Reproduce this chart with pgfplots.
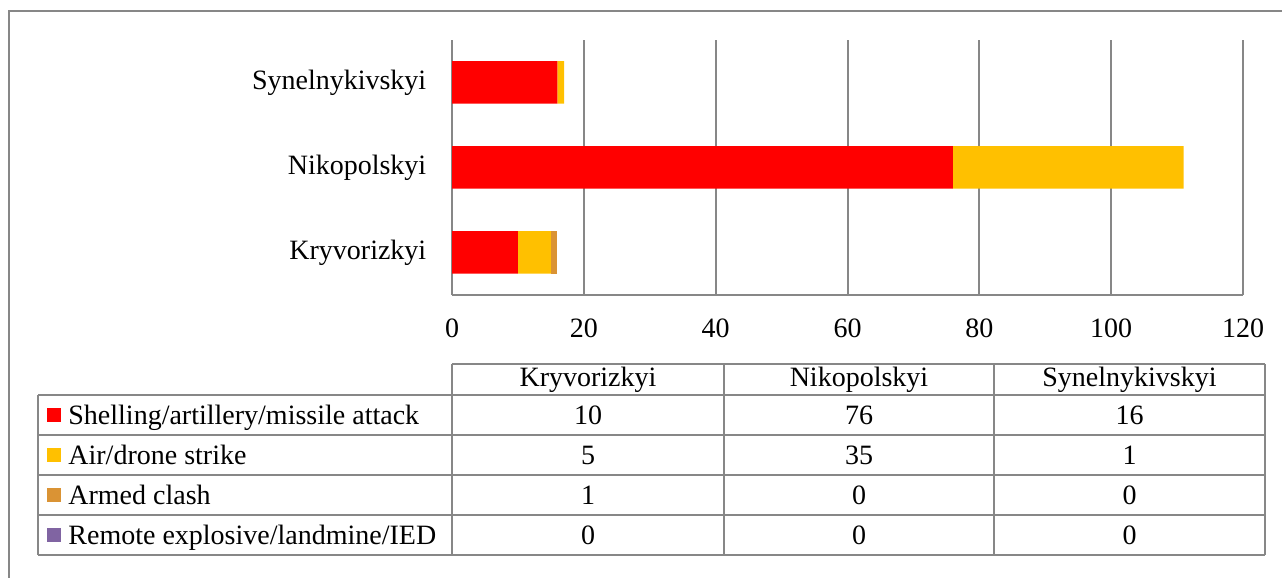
\documentclass[border=0pt]{standalone}
\usepackage{pgfplots}
\pgfplotsset{compat=1.18}
\usepackage{fontspec}
\setmainfont{Liberation Serif}

\definecolor{framegray}{HTML}{878787}
\definecolor{cshell}{HTML}{FF0000}
\definecolor{cair}{HTML}{FFC000}
\definecolor{cclash}{HTML}{DA9334}
\definecolor{cremote}{HTML}{8064A2}

% y: 0 = Kryvorizkyi, 1 = Nikopolskyi, 2 = Synelnykivskyi
\pgfplotstableread{
y shell air clash remote
0 10 5 1 0
1 76 35 0 0
2 16 1 0 0
}\incidents

\begin{document}
\fontsize{14}{16}\selectfont
\begin{tikzpicture}
% pixel grid of the reference, 1px = 0.5pt
\begin{scope}[x=0.5pt,y=-0.5pt]
\useasboundingbox (0,0) rectangle (1282,578);
\draw[framegray,line width=1pt] (9,578) -- (9,11) -- (1282,11);

% data table below the chart
\begin{scope}[framegray,line width=0.8pt]
  \draw (452,364) -- (1265,364);
  \draw (38,395) -- (1265,395);
  \foreach \yy in {435,475,515,555} \draw (38,\yy) -- (1265,\yy);
  \draw (38,395) -- (38,555);
  \foreach \xx in {452,724,994,1265} \draw (\xx,364) -- (\xx,555);
\end{scope}
\node at (588,380) {Kryvorizkyi};
\node at (859,380) {Nikopolskyi};
\node at (1129.5,380) {Synelnykivskyi};
\foreach \yy/\col/\lab in {415/cshell/Shelling\slash artillery\slash missile attack,
                           455/cair/Air\slash drone strike,
                           495/cclash/Armed clash,
                           535/cremote/Remote explosive\slash landmine\slash IED} {
  \fill[\col] (47,\yy-7) rectangle (61,\yy+7);
  \node[anchor=base west,inner sep=0pt] at (68,\yy+9) {\lab};
}
\foreach \yy/\a/\b/\c in {415/10/76/16, 455/5/35/1, 495/1/0/0, 535/0/0/0} {
  \node at (588,\yy) {\a};
  \node at (859,\yy) {\b};
  \node at (1129.5,\yy) {\c};
}
\end{scope}

\begin{axis}[
  at={(226pt,-20pt)}, anchor=north west,
  scale only axis,
  width=395.5pt, height=127.5pt,
  xbar stacked,
  bar width=0.5,
  xmin=0, xmax=120,
  ymin=-0.5, ymax=2.5,
  xtick={0,20,...,120},
  ytick={0,1,2},
  yticklabels={Kryvorizkyi,Nikopolskyi,Synelnykivskyi},
  axis x line*=bottom,
  axis y line*=left,
  axis line style={framegray,line width=1pt},
  xmajorgrids,
  grid style={framegray,line width=1pt},
  major tick length=0pt,
  xticklabel style={yshift=-7pt},
  yticklabel style={xshift=-8pt},
  /pgf/number format/assume math mode=true,
  every axis plot/.append style={draw=none},
]
\addplot[fill=cshell] table[x=shell,y=y] {\incidents};
\addplot[fill=cair] table[x=air,y=y] {\incidents};
\addplot[fill=cclash] table[x=clash,y=y] {\incidents};
\addplot[fill=cremote] table[x=remote,y=y] {\incidents};
\end{axis}
\end{tikzpicture}
\end{document}
